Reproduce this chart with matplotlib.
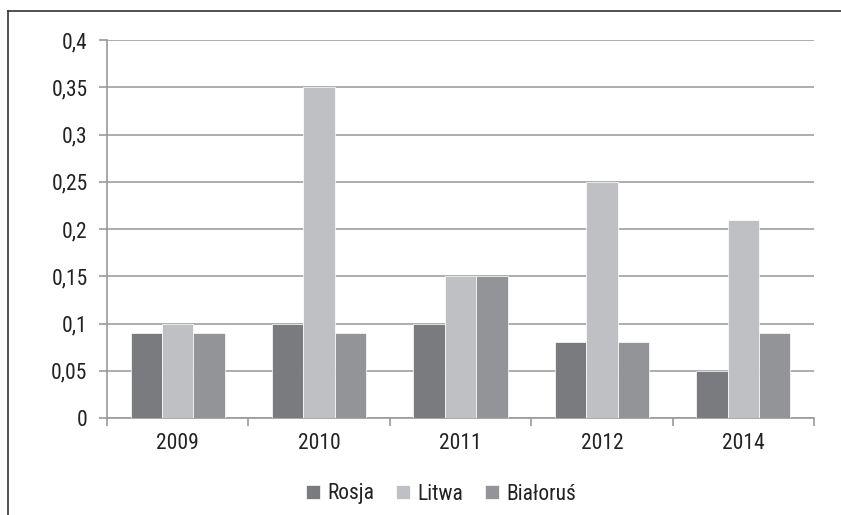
import matplotlib
matplotlib.use("Agg")
import matplotlib.pyplot as plt
import numpy as np
from matplotlib.lines import Line2D
from matplotlib.font_manager import fontManager

names = {f.name for f in fontManager.ttflist}
cands = ["Roboto Condensed", "Liberation Sans Narrow", "Open Sans Condensed", "DejaVu Sans Condensed", "Roboto"]
fam = next((c for c in cands if c in names), "DejaVu Sans")
plt.rcParams['font.family'] = [fam, 'DejaVu Sans']
plt.rcParams['font.stretch'] = 'condensed'

years = ["2009", "2010", "2011", "2012", "2014"]
series_names = ["Rosja", "Litwa", "Białoruś"]
rosja = [0.09, 0.10, 0.10, 0.08, 0.05]
litwa = [0.10, 0.35, 0.15, 0.25, 0.21]
bialorus = [0.09, 0.09, 0.15, 0.08, 0.09]
yticks = [0, 0.05, 0.1, 0.15, 0.2, 0.25, 0.3, 0.35, 0.4]
ytick_labels = ["0", "0,05", "0,1", "0,15", "0,2", "0,25", "0,3", "0,35", "0,4"]
colors = ["#7a7b7f", "#bfc0c4", "#939497"]

W, H = 841, 515
fig = plt.figure(figsize=(W/100, H/100), dpi=100)
ax = fig.add_axes([107/W, 1-418/H, (814-107)/W, (418-40)/H])

x = np.arange(len(years))
bw = 1/4.5
for i, (vals, c, n) in enumerate(zip([rosja, litwa, bialorus], colors, series_names)):
    ax.bar(x + (i-1)*bw, vals, width=bw, color=c, label=n, zorder=3,
           edgecolor="white", linewidth=0.5)

fs = 15.5
ax.set_xlim(-0.5, len(years)-0.5)
ax.set_ylim(0, 0.4)
ax.set_yticks(yticks)
ax.set_yticklabels(ytick_labels, fontsize=fs, color="#222222")
ax.set_xticks(x)
ax.set_xticklabels(years, fontsize=fs, color="#222222")
ax.set_xticks(np.arange(len(years)+1)-0.5, minor=True)
ax.tick_params(axis='x', which='major', length=0, pad=11)
ax.tick_params(axis='x', which='minor', length=6, color="#9a9a9a", width=1.2, direction='out')
ax.tick_params(axis='y', length=6, color="#9a9a9a", width=1.2, pad=8)
ax.grid(axis='y', color="#a0a0a0", linewidth=1.2, zorder=0)
for s in ["top", "right"]:
    ax.spines[s].set_visible(False)
ax.spines["left"].set_color("#9a9a9a")
ax.spines["bottom"].set_color("#9a9a9a")
ax.spines["left"].set_linewidth(1.2)
ax.spines["bottom"].set_linewidth(1.2)

leg = fig.legend(loc="center", bbox_to_anchor=(441/W, 1-494/H), ncol=3, frameon=False,
                 fontsize=fs, handlelength=0.65, handleheight=0.65, handletextpad=0.35,
                 columnspacing=1.0)
for t in leg.get_texts():
    t.set_color("#222222")

# outer frame (cropped at right and bottom)
fig.add_artist(Line2D([8/W, 8/W], [0, 1-11/H], color="#333333", linewidth=1.2, transform=fig.transFigure))
fig.add_artist(Line2D([8/W, 1], [1-11/H, 1-11/H], color="#333333", linewidth=1.2, transform=fig.transFigure))

fig.savefig("out.png", dpi=100)
